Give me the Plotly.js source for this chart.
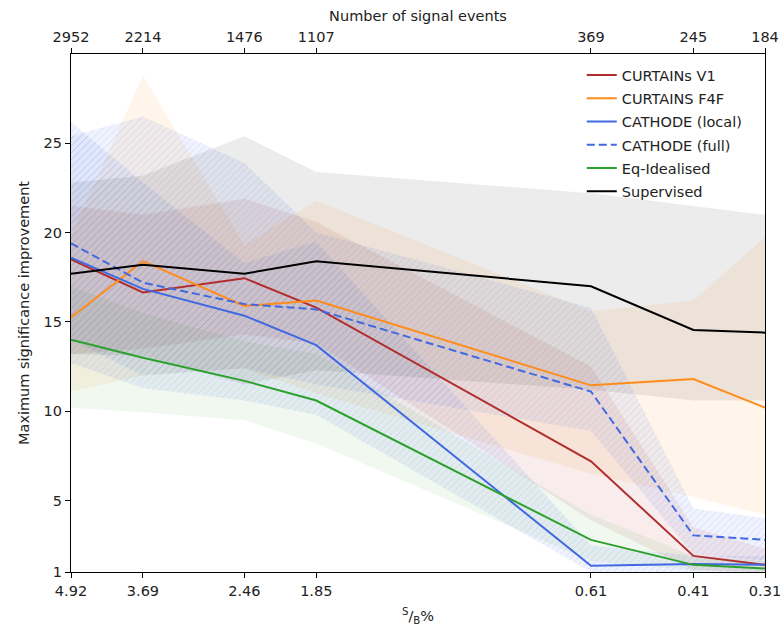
<!DOCTYPE html>
<html>
<head>
<meta charset="utf-8">
<script src="https://cdn.plot.ly/plotly-3.0.1.min.js"></script>
<style>
  html, body { margin: 0; padding: 0; background: #fff; }
  #chart { width: 781px; height: 626px; }
</style>
</head>
<body>
<div id="chart"></div>
<script>
// Injected signal counts (top axis) and the matching S/B percentages (bottom axis)
const signalEvents = [2952, 2214, 1476, 1107, 369, 245, 184];
const sbLabels = ['4.92', '3.69', '2.46', '1.85', '0.61', '0.41', '0.31'];
const yTicks = [1, 5, 10, 15, 20, 25];

// Median maximum significance improvement per method, with its uncertainty band
const curtainsV1 = [18.5, 16.65, 17.45, 15.8, 7.2, 1.9, 1.4];
const curtainsV1Up = [21.5, 21.0, 21.9, 20.6, 12.5, 3.5, 2.3];
const curtainsV1Lo = [13.2, 13.5, 14.3, 13.8, 3.9, 1.1, 1.0];

const curtainsF4F = [15.25, 18.4, 15.9, 16.2, 11.45, 11.8, 10.2];
const curtainsF4FUp = [19.8, 28.8, 19.3, 21.8, 15.6, 16.2, 19.75];
const curtainsF4FLo = [11.1, 12.0, 12.4, 11.0, 6.5, 5.2, 4.2];

const cathodeLocal = [18.6, 16.85, 15.35, 13.7, 1.35, 1.45, 1.4];
const cathodeLocalUp = [26.2, 22.8, 18.3, 19.5, 2.5, 1.9, 1.9];
const cathodeLocalLo = [12.7, 11.3, 10.6, 9.8, 1.0, 1.0, 1.0];

const cathodeFull = [19.4, 17.2, 16.0, 15.7, 11.1, 3.05, 2.8];
const cathodeFullUp = [25.4, 26.5, 23.9, 20.0, 15.8, 4.55, 4.0];
const cathodeFullLo = [14.0, 12.0, 12.4, 11.5, 8.9, 2.0, 1.65];

const eqIdealised = [14.0, 13.0, 11.7, 10.6, 2.8, 1.4, 1.2];
const eqIdealisedUp = [17.0, 15.5, 13.9, 13.2, 4.2, 1.9, 1.6];
const eqIdealisedLo = [10.2, 9.95, 9.5, 8.2, 1.6, 1.1, 1.0];

const supervised = [17.7, 18.2, 17.7, 18.4, 17.0, 14.55, 14.4];
const supervisedUp = [22.8, 23.2, 25.4, 23.4, 22.2, 21.5, 21.0];
const supervisedLo = [13.2, 13.1, 11.5, 12.3, 11.2, 10.6, 10.6];

const FONT = 'DejaVu Sans, sans-serif';
const series = [
  { name: 'CURTAINs V1', y: curtainsV1, up: curtainsV1Up, lo: curtainsV1Lo,
    color: '#b22e2e', fill: 'rgba(178,46,46,0.09)' },
  { name: 'CURTAINS F4F', y: curtainsF4F, up: curtainsF4FUp, lo: curtainsF4FLo,
    color: '#ff8c1a', fill: 'rgba(255,140,26,0.09)' },
  { name: 'CATHODE (local)', y: cathodeLocal, up: cathodeLocalUp, lo: cathodeLocalLo,
    color: '#4169e1', fill: 'rgba(65,105,225,0.08)', hatch: true },
  { name: 'CATHODE (full)', y: cathodeFull, up: cathodeFullUp, lo: cathodeFullLo,
    color: '#4169e1', fill: 'rgba(65,105,225,0.08)', hatch: true, dash: '8px,4px' },
  { name: 'Eq-Idealised', y: eqIdealised, up: eqIdealisedUp, lo: eqIdealisedLo,
    color: '#2ca02c', fill: 'rgba(44,160,44,0.07)' },
  { name: 'Supervised', y: supervised, up: supervisedUp, lo: supervisedLo,
    color: '#000000', fill: 'rgba(0,0,0,0.075)' }
];

const xLoop = signalEvents.concat(signalEvents.slice().reverse());
const traces = [];

// Uncertainty bands, drawn as closed polygons beneath the lines
series.forEach(s => {
  const band = {
    x: xLoop,
    y: s.up.concat(s.lo.slice().reverse()),
    mode: 'lines',
    line: { width: 0, color: 'rgba(0,0,0,0)' },
    fill: 'toself',
    fillcolor: s.fill,
    hoverinfo: 'skip',
    showlegend: false
  };
  if (s.hatch) {
    band.fillpattern = {
      shape: '/', size: 5, solidity: 0.14,
      fgcolor: 'rgba(65,105,225,0.2)', bgcolor: s.fill, fillmode: 'replace'
    };
  }
  traces.push(band);
});

// Median curves
series.forEach((s, i) => {
  traces.push({
    x: signalEvents,
    y: s.y,
    mode: 'lines',
    name: s.name,
    legendgroup: 'g' + i,
    line: { color: s.color, width: 2, dash: s.dash || 'solid' }
  });
});

// Invisible companion trace so the top axis has data to follow
traces.push({
  x: signalEvents, y: supervised, xaxis: 'x2', mode: 'lines',
  line: { width: 0, color: 'rgba(0,0,0,0)' }, hoverinfo: 'skip', showlegend: false
});

const xRange = [Math.log10(signalEvents[0]), Math.log10(signalEvents[signalEvents.length - 1])];
const axisFont = { family: FONT, size: 14.5, color: '#222' };

const layout = {
  width: 781, height: 626,
  margin: { l: 71, r: 16, t: 54, b: 54, pad: 0 },
  paper_bgcolor: '#fff', plot_bgcolor: '#fff',
  font: { family: FONT, size: 14.5, color: '#222' },
  showlegend: true,
  legend: {
    x: 0.736, y: 0.99, xanchor: 'left', yanchor: 'top',
    bgcolor: 'rgba(0,0,0,0)', borderwidth: 0,
    traceorder: 'grouped', tracegroupgap: 1.4,
    font: { family: FONT, size: 14.5, color: '#222' }
  },
  xaxis: {
    type: 'log', range: xRange,
    tickmode: 'array', tickvals: signalEvents, ticktext: sbLabels,
    ticks: 'outside', ticklen: 5, tickwidth: 1, tickcolor: '#000',
    ticklabeloverflow: 'allow',
    showline: true, linecolor: '#000', linewidth: 1.2,
    showgrid: false, zeroline: false, tickfont: axisFont,
    title: { text: '<sup>S</sup>/<sub>B</sub>%', font: axisFont, standoff: 16 }
  },
  xaxis2: {
    type: 'log', range: xRange, overlaying: 'x', side: 'top', anchor: 'y',
    tickmode: 'array', tickvals: signalEvents, ticktext: signalEvents.map(String),
    ticks: 'outside', ticklen: 5, tickwidth: 1, tickcolor: '#000',
    ticklabeloverflow: 'allow',
    showline: true, linecolor: '#000', linewidth: 1.2,
    showgrid: false, zeroline: false, tickfont: axisFont,
    title: { text: 'Number of signal events', font: axisFont, standoff: 4 }
  },
  yaxis: {
    range: [1, 30], tickmode: 'array', tickvals: yTicks,
    ticks: 'outside', ticklen: 5, tickwidth: 1, tickcolor: '#000',
    showline: true, mirror: true, linecolor: '#000', linewidth: 1.2,
    showgrid: false, zeroline: false, tickfont: axisFont,
    title: { text: 'Maximum significance improvement', font: axisFont, standoff: 10 }
  }
};

Plotly.newPlot('chart', traces, layout, { displayModeBar: false, staticPlot: true });
</script>
</body>
</html>
